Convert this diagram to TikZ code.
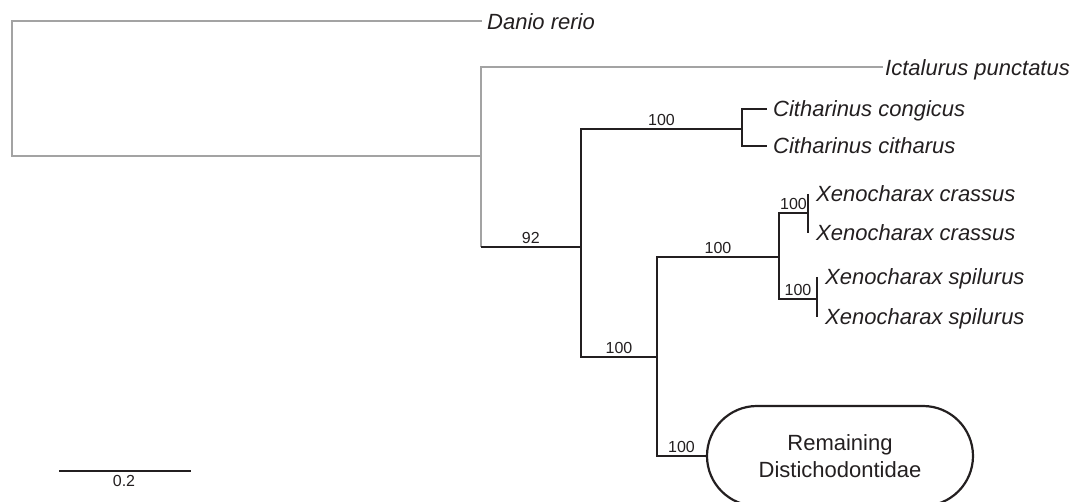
\documentclass[tikz,border=0pt]{standalone}
\usepackage{fontspec}
\setmainfont{Liberation Sans}
\usetikzlibrary{shapes.misc}
\definecolor{ink}{HTML}{231F20}
\definecolor{outg}{HTML}{A3A3A3}
\begin{document}
\begin{tikzpicture}[x=1pt,y=-1pt,
  br/.style={line width=2.3pt, draw=ink},
  gbr/.style={line width=2pt, draw=outg},
  leaf/.style={font=\fontsize{22}{26}\selectfont\itshape, text=ink, inner sep=0pt, anchor=base west},
  sup/.style={font=\fontsize{16}{19}\selectfont, text=ink, inner sep=0pt, anchor=base, yshift=3.5pt},
  cladebox/.style={rounded rectangle, rounded rectangle arc length=180, draw=ink, line width=2.2pt,
    minimum width=266pt, minimum height=100pt, inner sep=0pt, align=center,
    font=\fontsize{22}{27}\selectfont, text=ink}]
\useasboundingbox (0,0) rectangle (1072,502);
% internal nodes
\coordinate (R) at (12.4,90);
\coordinate (A) at (480.5,156);
\coordinate (B) at (581,246.7);
\coordinate (Cit) at (742,129);
\coordinate (C) at (657,356.7);
\coordinate (D) at (779,256.7);
\coordinate (D1) at (808,213);
\coordinate (D2) at (817,299);
% leaf tips
\coordinate (tDan) at (482,21.5);
\coordinate (tIct) at (883,67.5);
\coordinate (tCc) at (767,109);
\coordinate (tCh) at (767,146);
\coordinate (tX1) at (808,194);
\coordinate (tX2) at (808,233);
\coordinate (tS1) at (817,277);
\coordinate (tS2) at (817,317);
% leaf labels
\node[leaf] (dan) at (487,29.5) {Danio rerio};
\node[leaf] (ict) at (885,76) {Ictalurus punctatus};
\node[leaf] (cc) at (773,117) {Citharinus congicus};
\node[leaf] (ch) at (773,154) {Citharinus citharus};
\node[leaf] (x1) at (816,202) {Xenocharax crassus};
\node[leaf] (x2) at (816,241) {Xenocharax crassus};
\node[leaf] (s1) at (825,285) {Xenocharax spilurus};
\node[leaf] (s2) at (825,325) {Xenocharax spilurus};
\node[cladebox] (rem) at (840,456) {Remaining\\Distichodontidae};
% outgroup (grey) branches
\draw[gbr] (R) |- (tDan);
\draw[gbr] (R) |- (A);
\draw[gbr] (A) |- (tIct);
\draw[gbr] (A) -- (A |- B);
% ingroup (black) branches
\draw[br] (A |- B) -- node[sup, pos=0.5] (l92) {92} (B);
\draw[br] (B) |- node[sup, pos=0.75] (lcit) {100} (Cit);
\draw[br] (Cit) |- (tCc);
\draw[br] (Cit) |- (tCh);
\draw[br] (B) |- node[sup, pos=0.75] (lc) {100} (C);
\draw[br] (C) |- node[sup, pos=0.75] (ld) {100} (D);
\draw[br] (D) |- node[sup, pos=0.75] (ld1) {100} (D1);
\draw[br] (D) |- node[sup, pos=0.75] (ld2) {100} (D2);
\draw[br] (tX1) -- (tX2);
\draw[br] (tS1) -- (tS2);
\draw[br] (C) |- node[sup, pos=0.75] (lrem) {100} (rem.west);
% scale bar
\coordinate (sb1) at (59,471);
\coordinate (sb2) at (191,471);
\draw[br] (sb1) -- (sb2);
\node[font=\fontsize{16}{19}\selectfont, text=ink, inner sep=0pt, anchor=base] (sbl) at (124,486.5) {0.2};
\end{tikzpicture}
\end{document}
